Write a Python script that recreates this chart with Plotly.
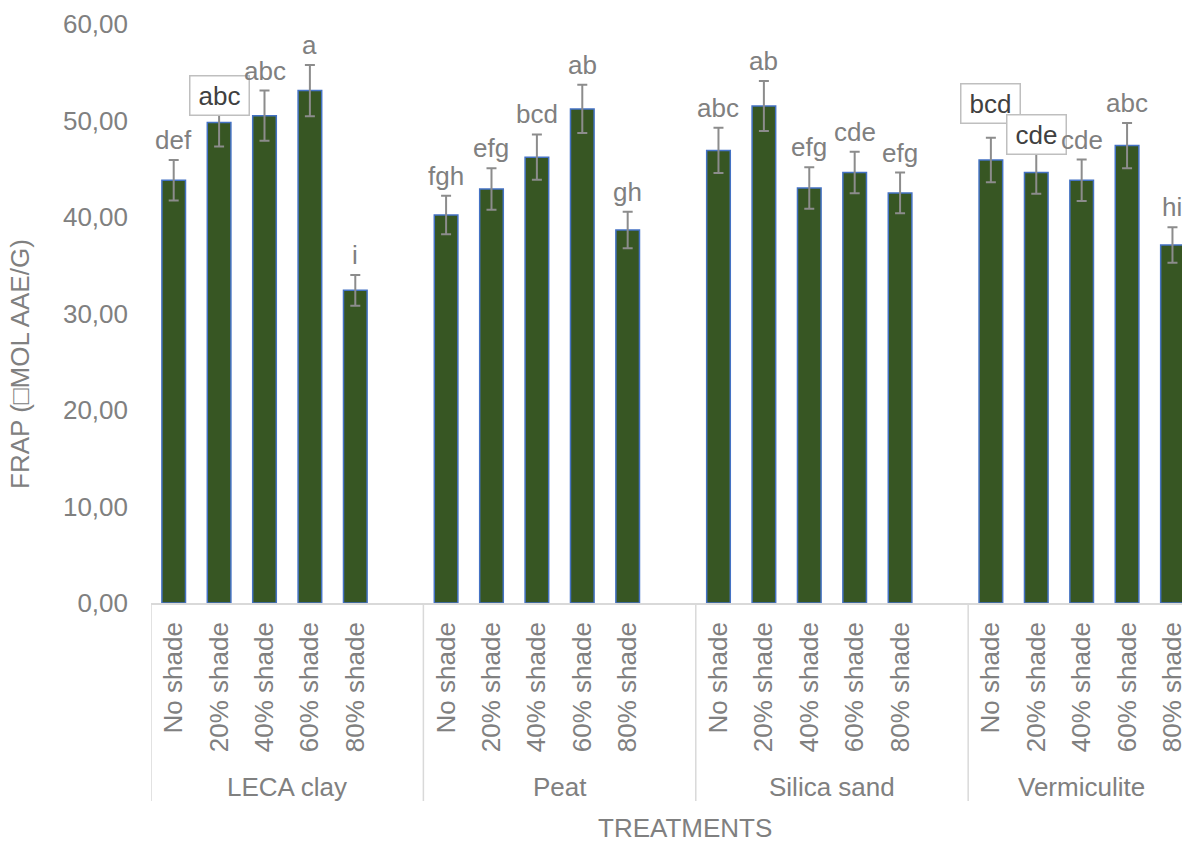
import plotly.graph_objects as go

# Substrates (outer categories) and shade levels (inner categories)
substrates = ["LECA clay", "Peat", "Silica sand", "Vermiculite"]
shade_levels = ["No shade", "20% shade", "40% shade", "60% shade", "80% shade"]

# FRAP means per substrate, in shade-level order
leca_frap = [43.8, 49.8, 50.5, 53.1, 32.4]
peat_frap = [40.2, 42.9, 46.2, 51.2, 38.65]
silica_frap = [46.9, 51.5, 43.0, 44.6, 42.5]
vermiculite_frap = [45.9, 44.6, 43.8, 47.4, 37.1]

# Standard errors
leca_err = [2.1, 2.5, 2.6, 2.65, 1.6]
peat_err = [2.0, 2.15, 2.35, 2.5, 1.9]
silica_err = [2.35, 2.6, 2.15, 2.15, 2.1]
vermiculite_err = [2.3, 2.2, 2.15, 2.35, 1.85]

# Significance letters
leca_letters = ["def", "abc", "abc", "a", "i"]
peat_letters = ["fgh", "efg", "bcd", "ab", "gh"]
silica_letters = ["abc", "ab", "efg", "cde", "efg"]
vermiculite_letters = ["bcd", "cde", "cde", "abc", "hi"]

y_title = "FRAP (\u25a1MOL AAE/G)"
x_title = "TREATMENTS"

all_frap = [leca_frap, peat_frap, silica_frap, vermiculite_frap]
all_err = [leca_err, peat_err, silica_err, vermiculite_err]
all_letters = [leca_letters, peat_letters, silica_letters, vermiculite_letters]

# Each substrate occupies 6 slots on the category axis: 5 bars + 1 spacer
SLOTS = 6
xs, ys, es, labels, ticktext = [], [], [], [], []
for g, name in enumerate(substrates):
    for s, shade in enumerate(shade_levels):
        xs.append(g * SLOTS + s)
        ys.append(all_frap[g][s])
        es.append(all_err[g][s])
        labels.append(all_letters[g][s])
        ticktext.append(shade)

FONT = "Liberation Sans, Arial, sans-serif"
GREY_TXT = "#808080"
AXIS_GREY = "#d9d9d9"
FS = 26

fig = go.Figure()
fig.add_trace(go.Bar(
    x=xs, y=ys,
    marker=dict(color="#375623", line=dict(color="#4472c4", width=1.5)),
    error_y=dict(type="data", array=es, visible=True,
                 color="#8c8c8c", thickness=2, width=5),
    showlegend=False,
))

# Letters shown in callout boxes, keyed by (substrate, shade) -> box centre (y units)
boxed = {("LECA clay", "20% shade"): 52.6,
         ("Vermiculite", "No shade"): 51.8,
         ("Vermiculite", "20% shade"): 48.5}

annotations = []
k = 0
for g, name in enumerate(substrates):
    for s, shade in enumerate(shade_levels):
        x, y, e, lab = xs[k], ys[k], es[k], labels[k]
        k += 1
        if (name, shade) in boxed:
            annotations.append(dict(
                x=x, y=boxed[(name, shade)], xref="x", yref="y", text=lab,
                showarrow=False, xanchor="center", yanchor="middle",
                width=50, align="center",
                font=dict(family=FONT, size=FS, color="#404040"),
                bgcolor="white", bordercolor="#bfbfbf", borderwidth=1.5,
                borderpad=4,
            ))
        else:
            annotations.append(dict(
                x=x, y=y + e, xref="x", yref="y", text=lab, showarrow=False,
                xanchor="center", yanchor="bottom", yshift=3,
                font=dict(family=FONT, size=FS, color=GREY_TXT),
            ))

# Substrate names under the shade labels
for g, name in enumerate(substrates):
    n_slots = SLOTS if g < len(substrates) - 1 else len(shade_levels)
    annotations.append(dict(
        x=g * SLOTS + (n_slots - 1) / 2, y=-0.318, xref="x", yref="paper",
        text=name, showarrow=False, xanchor="center", yanchor="middle",
        font=dict(family=FONT, size=FS, color=GREY_TXT),
    ))

annotations.append(dict(
    x=0.5184, y=-0.389, xref="paper", yref="paper", text=x_title,
    showarrow=False, xanchor="center", yanchor="middle",
    font=dict(family=FONT, size=FS, color=GREY_TXT),
))
annotations.append(dict(
    x=-0.127, y=0.413, xref="paper", yref="paper", text=y_title,
    showarrow=False, xanchor="center", yanchor="middle", textangle=-90,
    font=dict(family=FONT, size=FS, color=GREY_TXT),
))

# Group divider lines below the category axis
shapes = []
for g in range(len(substrates)):
    shapes.append(dict(
        type="line", xref="x", yref="paper",
        x0=g * SLOTS - 0.5, x1=g * SLOTS - 0.5, y0=0, y1=-0.342,
        line=dict(color=AXIS_GREY, width=1.5),
    ))

fig.update_layout(
    width=1182, height=841,
    margin=dict(l=151, r=0, t=24, b=238, pad=0),
    paper_bgcolor="white", plot_bgcolor="white",
    separators=", ",
    bargap=0.48,
    font=dict(family=FONT, size=FS, color=GREY_TXT),
    annotations=annotations,
    shapes=shapes,
)
fig.update_xaxes(
    range=[-0.5, 22.21], automargin=False,
    tickmode="array", tickvals=xs, ticktext=ticktext, tickangle=-90,
    tickfont=dict(family=FONT, size=FS, color=GREY_TXT),
    ticks="", ticklabelstandoff=7, ticklabeloverflow="allow",
    showline=True, linecolor=AXIS_GREY, linewidth=1.5,
    showgrid=False, zeroline=False,
)
fig.update_yaxes(
    range=[0, 60], dtick=10, tickformat=".2f", automargin=False,
    tickfont=dict(family=FONT, size=FS, color=GREY_TXT),
    ticks="", ticklabelstandoff=22,
    showline=False, showgrid=False, zeroline=False,
)

fig.write_html("out.html")
